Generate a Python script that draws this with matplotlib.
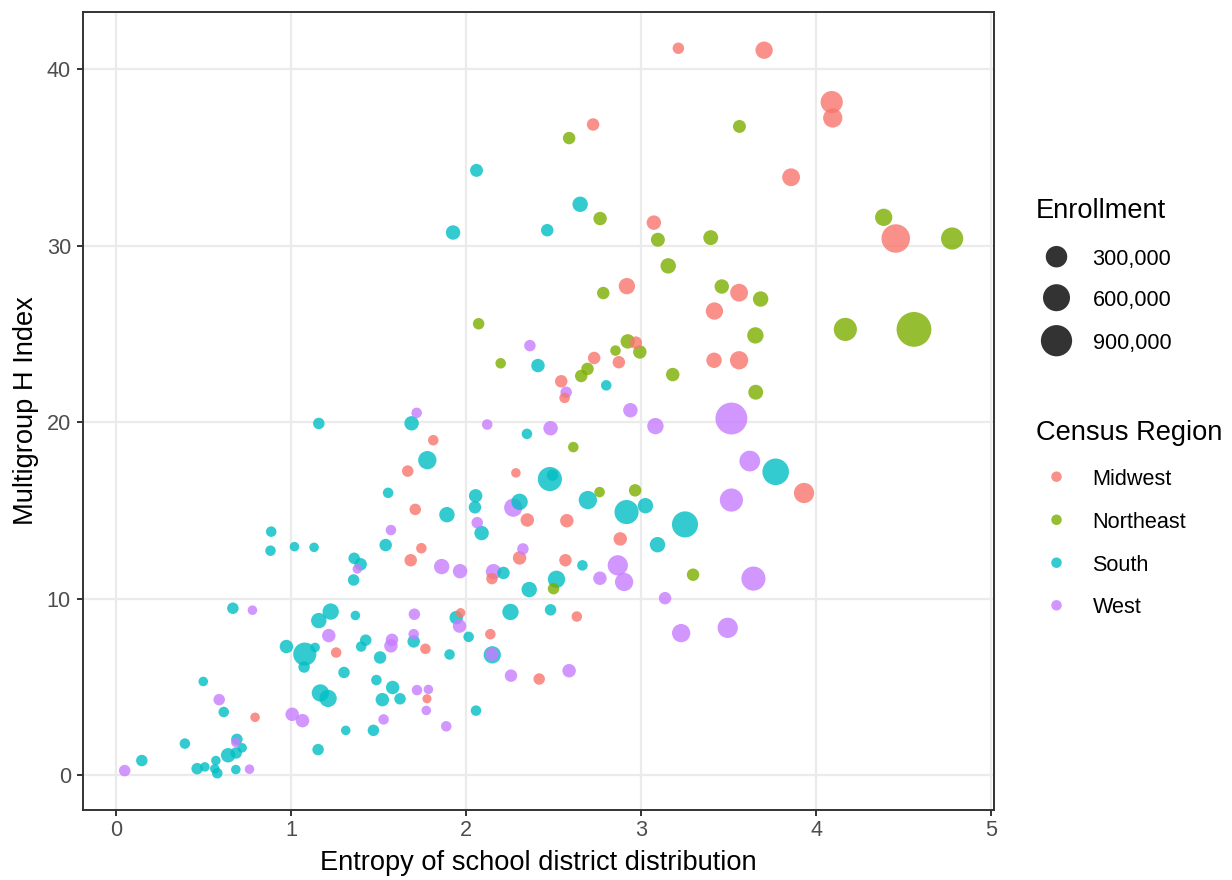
import numpy as np
import matplotlib
matplotlib.use("Agg")
import matplotlib.pyplot as plt

plt.rcParams["font.family"] = ["Liberation Sans", "DejaVu Sans"]

DPI = 100
W, H = 1232, 880

# ---- data -------------------------------------------------------------
regions = ["Midwest", "Northeast", "South", "West"]
region_colors = ["#F8766D", "#7CAE00", "#00BFC4", "#C77CFF"]

midwest_entropy = [3.212, 2.725, 3.072, 2.918, 3.702, 4.088, 4.094, 3.856, 4.454, 3.559,
                   3.418, 3.416, 3.559, 3.930, 2.969, 2.731, 2.872, 2.543, 2.562, 1.812,
                   1.666, 2.284, 1.709, 2.349, 2.575, 2.880, 2.567, 2.305, 2.147, 1.744,
                   1.683, 2.632, 1.968, 1.767, 2.138, 2.417, 1.776, 1.257, 0.794]
midwest_h = [41.2, 36.88, 31.32, 27.72, 41.09, 38.15, 37.25, 33.89, 30.42, 27.35,
             26.31, 23.52, 23.52, 16.0, 24.52, 23.65, 23.41, 22.33, 21.39, 18.99,
             17.24, 17.14, 15.07, 14.47, 14.43, 13.4, 12.19, 12.32, 11.15, 12.87,
             12.19, 9.0, 9.21, 7.17, 8.0, 5.46, 4.34, 6.96, 3.29]
midwest_enroll = [18500, 31000, 66000, 113000, 141000, 332000, 208000, 157000, 699000, 157000,
                  141000, 88000, 173000, 246000, 31000, 31000, 31000, 31000, 9200, 9200,
                  18500, 3100, 18500, 47000, 47000, 47000, 31000, 47000, 18500, 9200,
                  31000, 9200, 3100, 9200, 9200, 18500, 1300, 9200, 3100]

northeast_entropy = [2.588, 2.765, 3.095, 3.154, 3.561, 4.385, 4.776, 3.397, 3.460, 3.682,
                     4.166, 4.558, 3.652, 3.654, 2.783, 2.071, 2.197, 2.923, 2.992, 2.853,
                     2.693, 2.657, 3.180, 2.612, 2.762, 2.965, 3.296, 2.499]
northeast_h = [36.11, 31.55, 30.35, 28.87, 36.77, 31.62, 30.42, 30.47, 27.70, 26.99,
               25.27, 25.27, 24.93, 21.71, 27.33, 25.59, 23.35, 24.59, 23.99, 24.07,
               23.03, 22.63, 22.71, 18.6, 16.05, 16.15, 11.37, 10.58]
northeast_enroll = [31000, 47000, 56000, 88000, 38000, 141000, 332000, 76000, 66000, 88000,
                    379000, 1197000, 113000, 76000, 31000, 18500, 9200, 66000, 47000, 9200,
                    31000, 31000, 47000, 9200, 9200, 31000, 31000, 18500]

south_entropy = [2.059, 2.651, 1.925, 2.463, 3.768, 3.250, 3.093, 2.664, 2.516, 2.360,
                 2.213, 1.540, 2.253, 2.482, 1.943, 1.700, 1.905, 2.014, 2.149, 1.580,
                 1.622, 2.056, 0.882, 1.019, 1.131, 1.360, 1.397, 1.357, 0.667, 1.226,
                 1.158, 1.367, 0.973, 1.078, 1.137, 1.074, 1.302, 1.426, 1.400, 1.508,
                 1.487, 1.167, 1.211, 1.521, 1.312, 1.470, 1.154, 0.498, 0.615, 0.393,
                 0.147, 0.690, 0.720, 0.640, 0.686, 0.570, 0.507, 0.463, 0.564, 0.578,
                 0.684, 1.158, 1.554, 0.886, 2.410, 2.800, 1.688, 2.347, 1.778, 2.478,
                 2.493, 2.054, 2.050, 2.305, 2.695, 2.916, 3.024, 1.890, 2.088]
south_h = [34.28, 32.36, 30.76, 30.89, 17.2, 14.22, 13.07, 11.9, 11.11, 10.53,
           11.47, 13.05, 9.26, 9.38, 8.94, 7.59, 6.85, 7.85, 6.83, 4.98,
           4.34, 3.67, 12.73, 12.96, 12.92, 12.3, 11.96, 11.07, 9.47, 9.28,
           8.77, 9.06, 7.3, 6.87, 7.25, 6.14, 5.83, 7.66, 7.3, 6.68,
           5.40, 4.67, 4.36, 4.29, 2.55, 2.55, 1.46, 5.32, 3.59, 1.80,
           0.84, 2.04, 1.56, 1.14, 1.27, 0.84, 0.48, 0.38, 0.37, 0.12,
           0.33, 19.94, 16.01, 13.81, 23.22, 22.1, 19.95, 19.35, 17.86, 16.79,
           17.01, 15.84, 15.19, 15.5, 15.6, 14.92, 15.28, 14.77, 13.73]
south_enroll = [38000, 88000, 66000, 31000, 572000, 542000, 88000, 9200, 141000, 88000,
                31000, 31000, 113000, 18500, 47000, 31000, 9200, 9200, 141000, 47000,
                18500, 9200, 9200, 3100, 3100, 18500, 31000, 18500, 18500, 113000,
                88000, 3100, 47000, 379000, 3100, 18500, 18500, 18500, 9200, 31000,
                9200, 141000, 141000, 47000, 3100, 18500, 18500, 3100, 9200, 9200,
                18500, 18500, 3100, 66000, 18500, 3100, 3100, 18500, 3100, 9200,
                3100, 18500, 9200, 9200, 47000, 9200, 66000, 9200, 173000, 430000,
                18500, 47000, 31000, 113000, 173000, 430000, 88000, 88000, 66000]

west_entropy = [3.515, 3.620, 3.515, 3.641, 3.494, 3.136, 3.228, 2.866, 2.902, 2.764,
                2.324, 2.156, 1.860, 1.965, 1.704, 1.962, 1.700, 1.576, 1.570, 2.147,
                2.256, 2.588, 1.719, 1.784, 1.772, 1.886, 1.378, 0.779, 1.215, 1.006,
                1.065, 1.528, 0.589, 0.049, 0.684, 0.762, 1.570, 2.364, 2.571, 2.938,
                3.081, 1.717, 2.120, 2.482, 2.269, 2.063]
west_h = [20.22, 17.81, 15.6, 11.15, 8.36, 10.04, 8.06, 11.9, 10.96, 11.17,
          12.83, 11.54, 11.83, 11.57, 9.13, 8.46, 8.0, 7.68, 7.34, 6.86,
          5.65, 5.93, 4.83, 4.87, 3.68, 2.78, 11.7, 9.36, 7.92, 3.46,
          3.1, 3.17, 4.29, 0.27, 1.87, 0.35, 13.9, 24.35, 21.71, 20.69,
          19.79, 20.54, 19.88, 19.67, 15.17, 14.32]
west_enroll = [952000, 266000, 379000, 430000, 246000, 31000, 173000, 246000, 173000, 47000,
               18500, 88000, 88000, 66000, 18500, 47000, 9200, 31000, 47000, 47000,
               31000, 47000, 9200, 3100, 3100, 9200, 3100, 3100, 47000, 47000,
               47000, 9200, 18500, 18500, 3100, 3100, 9200, 18500, 18500, 66000,
               113000, 9200, 9200, 66000, 173000, 18500]

size_breaks = [300000, 600000, 900000]
size_labels = ["300,000", "600,000", "900,000"]

x_ticks = [0, 1, 2, 3, 4, 5]
y_ticks = [0, 10, 20, 30, 40]

# ---- helpers ----------------------------------------------------------
def diameter_px(v):
    """Area-style size scale: marker diameter in pixels for an enrollment."""
    return 8.2 + 24.3 * np.sqrt(np.asarray(v, dtype=float) / 1e6)


def marker_area(v):
    d_pt = diameter_px(v) * 72.0 / DPI
    return d_pt ** 2


def fx(px):
    return px / W


def fy(py):
    return 1 - py / H


entropy = np.concatenate([midwest_entropy, northeast_entropy, south_entropy, west_entropy])
h_index = np.concatenate([midwest_h, northeast_h, south_h, west_h])
enroll = np.concatenate([midwest_enroll, northeast_enroll, south_enroll, west_enroll])
group = np.concatenate([[i] * n for i, n in enumerate(
    [len(midwest_h), len(northeast_h), len(south_h), len(west_h)])])
colors = np.array(region_colors)[group]

# larger bubbles underneath
order = np.argsort(-enroll, kind="stable")

# ---- figure -----------------------------------------------------------
fig = plt.figure(figsize=(W / DPI, H / DPI), dpi=DPI)
fig.patch.set_facecolor("white")

left, right, top, bottom = 83.3, 993.5, 12.0, 809.5
ax = fig.add_axes([fx(left), fy(bottom), fx(right) - fx(left), fy(top) - fy(bottom)])

ax.scatter(entropy[order], h_index[order], s=marker_area(enroll[order]),
           c=colors[order], alpha=0.8, linewidths=0, zorder=3)

# ggplot-style 5% expansion of the data range
def expanded(vals, frac=0.05):
    lo, hi = float(np.min(vals)), float(np.max(vals))
    pad = (hi - lo) * frac
    return lo - pad, hi + pad

ax.set_xlim(*expanded(entropy))
ax.set_ylim(*expanded(h_index))
ax.set_xticks(x_ticks)
ax.set_yticks(y_ticks)
ax.set_xticklabels([str(t) for t in x_ticks])
ax.set_yticklabels([str(t) for t in y_ticks])

ax.grid(True, color="#EBEBEB", linewidth=1.6, zorder=0)
ax.set_axisbelow(True)
for sp in ax.spines.values():
    sp.set_color("#333333")
    sp.set_linewidth(1.4)
    sp.set_zorder(5)

ax.tick_params(axis="both", colors="#333333", width=1.4, length=4.3,
               labelcolor="#4D4D4D", labelsize=15.6)
ax.tick_params(axis="x", pad=3.6)
ax.tick_params(axis="y", pad=4.6)

# axis titles
fig.text(fx((left + right) / 2), fy(870), "Entropy of school district distribution",
         ha="center", va="baseline", fontsize=19.6, color="black")
fig.text(fx(26), fy((top + bottom) / 2), "Multigroup H Index", rotation=90,
         ha="center", va="center", fontsize=19.6, color="black")

# ---- legends ----------------------------------------------------------
lax = fig.add_axes([0, 0, 1, 1], facecolor="none")
lax.set_xlim(0, W)
lax.set_ylim(H, 0)
lax.axis("off")

key_x, label_x, title_x = 1056.5, 1092.5, 1036

lax.text(title_x, 217.5, "Enrollment", fontsize=19.6, ha="left", va="baseline")
size_key_y = [256.7, 297.7, 340.7]
lax.scatter([key_x] * len(size_breaks), size_key_y, s=marker_area(size_breaks),
            color="black", alpha=0.8, linewidths=0)
for yk, lab in zip(size_key_y, size_labels):
    lax.text(label_x, yk + 8, lab, fontsize=15.6, ha="left", va="baseline")

lax.text(title_x, 440, "Census Region", fontsize=19.6, ha="left", va="baseline")
color_key_y = [476.7, 519.8, 562.7, 605.3]
dot_area = (10.5 * 72.0 / DPI) ** 2
lax.scatter([key_x] * len(regions), color_key_y, s=dot_area,
            c=region_colors, alpha=0.8, linewidths=0)
for yk, lab in zip(color_key_y, regions):
    lax.text(label_x, yk + 8, lab, fontsize=15.6, ha="left", va="baseline")

fig.savefig("out.png", dpi=DPI, facecolor="white")
